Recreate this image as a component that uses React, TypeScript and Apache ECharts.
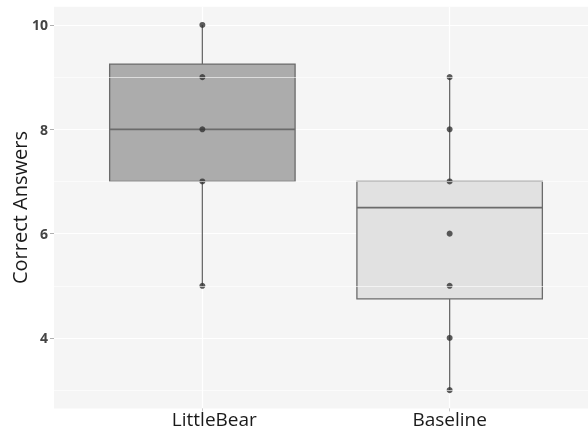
import React, { useEffect, useRef } from "react";
import * as echarts from "echarts";

const categories = ["LittleBear", "Baseline"];
const boxMin = [5, 3];
const boxQ1 = [7, 4.75];
const boxMedian = [8, 6.5];
const boxQ3 = [9.25, 7];
const boxMax = [10, 9];
const pointsLittleBear = [10, 9, 8, 7, 5];
const pointsBaseline = [9, 8, 7, 6, 5, 4, 3];
const yTicks = [4, 6, 8, 10];
const yMinor = [3, 5, 7, 9];
const xTicks = [1, 2];
const boxFills = ["#acacac", "#e1e1e1"];

export default function App() {
  const ref = useRef<HTMLDivElement>(null);
  useEffect(() => {
    if (!ref.current) return;
    const chart = echarts.init(ref.current, null, { renderer: "svg" });
    const stroke = "#6b6b6b";
    const boxData = categories.map((c, i) => [
      i + 1,
      boxMin[i],
      boxQ1[i],
      boxMedian[i],
      boxQ3[i],
      boxMax[i],
    ]);
    const pointData = [
      ...pointsLittleBear.map((v) => [1, v]),
      ...pointsBaseline.map((v) => [2, v]),
    ];
    chart.setOption({
      animation: false,
      grid: {
        left: 54,
        right: -10,
        top: 6.7,
        bottom: 23.6,
        containLabel: false,
        outerBoundsMode: "none",
        show: true,
        backgroundColor: "#f5f5f5",
        borderWidth: 0,
      },
      xAxis: {
        type: "value",
        min: 0.4,
        max: 2.6,
        axisLine: { show: false },
        axisTick: {
          show: true,
          customValues: xTicks,
          length: 3,
          lineStyle: { color: "#c8c8c8" },
        },
        splitLine: { show: true, lineStyle: { color: "#ffffff", width: 1.2 } },
        axisLabel: {
          customValues: xTicks,
          margin: 1,
          fontFamily: "Open Sans",
          fontSize: 19,
          color: "#1a1a1a",
          formatter: (v: number) => {
            const i = Math.round(v) - 1;
            return i === 0 ? "{a|" + categories[i] + "}" : "{b|" + categories[i] + "}";
          },
          rich: {
            a: { fontFamily: "Open Sans", fontSize: 19, color: "#1a1a1a", padding: [0, 0, 0, 24] },
            b: { fontFamily: "Open Sans", fontSize: 19, color: "#1a1a1a" },
          },
        },
      },
      yAxis: {
        type: "value",
        min: 2.65,
        max: 10.35,
        name: "Correct Answers",
        nameLocation: "middle",
        nameRotate: 90,
        nameGap: 25,
        nameMoveOverlap: false,
        nameTextStyle: { fontFamily: "Open Sans", fontSize: 20, color: "#1a1a1a" },
        axisLine: { show: false },
        axisTick: {
          show: true,
          customValues: yTicks,
          length: 4,
          lineStyle: { color: "#b0b0b0" },
        },
        splitLine: { show: true, lineStyle: { color: "#ffffff", width: 1.2 } },
        axisLabel: {
          customValues: yTicks,
          margin: 6,
          fontFamily: "Open Sans",
          fontWeight: "bold",
          fontSize: 14,
          color: "#444444",
        },
      },
      series: [
        {
          type: "line",
          data: [],
          z: 1,
          silent: true,
          markLine: {
            silent: true,
            symbol: "none",
            label: { show: false },
            lineStyle: { color: "#ffffff", width: 0.6, type: "solid" },
            data: yMinor.map((v) => ({ yAxis: v })),
          },
        },
        {
          type: "custom",
          z: 2,
          data: boxData,
          encode: { x: 0, y: [1, 2, 3, 4, 5] },
          renderItem: (params: any, api: any) => {
            const x = api.value(0);
            const pMin = api.coord([x, api.value(1)]);
            const pQ1 = api.coord([x, api.value(2)]);
            const pMed = api.coord([x, api.value(3)]);
            const pQ3 = api.coord([x, api.value(4)]);
            const pMax = api.coord([x, api.value(5)]);
            const half = api.size([0.375, 0])[0];
            const fill = boxFills[params.dataIndex];
            return {
              type: "group",
              children: [
                {
                  type: "line",
                  shape: { x1: pMax[0], y1: pMax[1], x2: pQ3[0], y2: pQ3[1] },
                  style: { stroke, lineWidth: 1.3 },
                },
                {
                  type: "line",
                  shape: { x1: pQ1[0], y1: pQ1[1], x2: pMin[0], y2: pMin[1] },
                  style: { stroke, lineWidth: 1.3 },
                },
                {
                  type: "rect",
                  shape: {
                    x: pQ3[0] - half,
                    y: pQ3[1],
                    width: half * 2,
                    height: pQ1[1] - pQ3[1],
                  },
                  style: { fill, stroke, lineWidth: 1.3 },
                },
                {
                  type: "line",
                  shape: { x1: pMed[0] - half, y1: pMed[1], x2: pMed[0] + half, y2: pMed[1] },
                  style: { stroke, lineWidth: 1.8 },
                },
              ],
            };
          },
        },
        {
          type: "scatter",
          z: 3,
          data: pointData,
          symbol: "circle",
          symbolSize: 6,
          itemStyle: { color: "#333333" },
        },
      ],
    });
    return () => chart.dispose();
  }, []);
  return (
    <div
      ref={ref}
      style={{ position: "fixed", left: 0, top: 0, width: 588, height: 432 }}
    />
  );
}
